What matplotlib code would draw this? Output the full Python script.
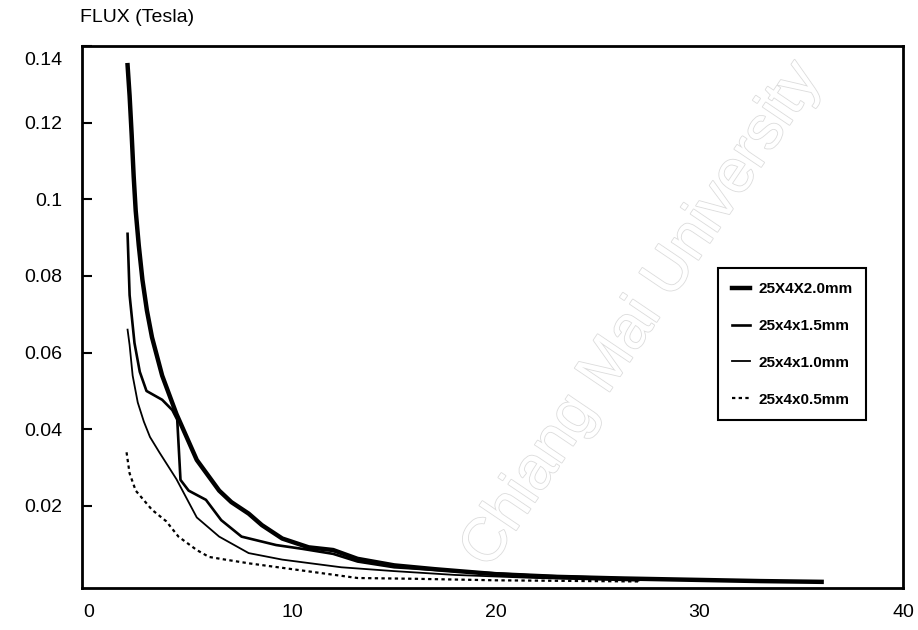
import numpy as np
import matplotlib.pyplot as plt
import matplotlib.patheffects as pe
import matplotlib.transforms as mtransforms

plt.rcParams['font.family'] = ['Liberation Sans', 'DejaVu Sans']

# distance (x) vs flux (Tesla)
x_20 = [1.9, 2.0, 2.1, 2.2, 2.3, 2.45, 2.63, 2.85, 3.1, 3.6, 4.3, 5.3, 6.4, 7.0, 7.85, 8.5, 9.5, 10.8, 12.0, 13.2, 15.0, 17.0, 20.0, 23.0, 26.0, 30.0, 33.0, 36.0]
y_20 = [0.135, 0.127, 0.117, 0.106, 0.097, 0.088, 0.079, 0.071, 0.064, 0.054, 0.044, 0.032, 0.024, 0.021, 0.018, 0.015, 0.0115, 0.0092, 0.0085, 0.0062, 0.0045, 0.0035, 0.0022, 0.0015, 0.0011, 0.0007, 0.0004, 0.0002]

x_15 = [1.9, 2.0, 2.24, 2.5, 2.83, 3.6, 4.1, 4.34, 4.5, 4.9, 5.75, 6.5, 7.5, 9.2, 10.5, 12.0, 13.2, 15.0, 18.0, 22.0, 27.0]
y_15 = [0.091, 0.075, 0.0625, 0.055, 0.050, 0.0477, 0.045, 0.0425, 0.0268, 0.024, 0.0216, 0.0163, 0.012, 0.0098, 0.0088, 0.0075, 0.0055, 0.004, 0.003, 0.0018, 0.001]

x_10 = [1.9, 2.0, 2.15, 2.4, 2.7, 3.0, 3.46, 4.3, 5.3, 6.4, 7.85, 9.5, 12.4, 15.0, 18.0, 22.0, 27.0]
y_10 = [0.066, 0.062, 0.054, 0.047, 0.042, 0.038, 0.034, 0.027, 0.017, 0.012, 0.0077, 0.006, 0.004, 0.003, 0.002, 0.0012, 0.0005]

x_05 = [1.85, 2.0, 2.3, 3.1, 3.8, 4.4, 5.3, 5.9, 6.7, 7.9, 10.0, 13.2, 16.0, 20.0, 27.0]
y_05 = [0.034, 0.0285, 0.024, 0.019, 0.016, 0.012, 0.0085, 0.0067, 0.006, 0.005, 0.0035, 0.0012, 0.001, 0.0006, 0.0003]

labels = ['25X4X2.0mm', '25x4x1.5mm', '25x4x1.0mm', '25x4x0.5mm']
xticks = [0, 10, 20, 30, 40]
yticks = [0.02, 0.04, 0.06, 0.08, 0.1, 0.12, 0.14]
ytick_labels = ['0.02', '0.04', '0.06', '0.08', '0.1', '0.12', '0.14']

fig = plt.figure(figsize=(9.18, 6.3), dpi=100)
ax = fig.add_axes([0.0893, 0.0667, 0.8944, 0.8603])

# faint scan watermark
fig.text(0.70, 0.50, 'Chiang Mai University', fontsize=44, rotation=56,
         ha='center', va='center', color='white', zorder=-1,
         path_effects=[pe.withStroke(linewidth=1.2, foreground='#dcdcdc')])

ax.plot(x_20, y_20, color='black', lw=3.2, label=labels[0])
ax.plot(x_15, y_15, color='black', lw=1.9, label=labels[1])
ax.plot(x_10, y_10, color='black', lw=1.3, label=labels[2])
ax.plot(x_05, y_05, color='black', lw=1.6, linestyle=(0, (1.5, 1.5)), label=labels[3])

ax.set_xlim(-0.34, 40)
ax.set_ylim(-0.0014, 0.140)
ax.patch.set_alpha(0)

ax.set_xticks([])
trans = mtransforms.blended_transform_factory(ax.transData, ax.transAxes)
for v in xticks:
    ax.text(v, -0.046, str(v), transform=trans, ha='center', va='center',
            fontsize=14, clip_on=False)

ax.set_yticks(yticks)
ax.set_yticklabels(ytick_labels, fontsize=14)
ax.tick_params(axis='y', direction='in', length=7, width=1.5, pad=14)
# the top label sits a little below the frame in the scan
top = ax.get_yticklabels()[-1]
top.set_transform(top.get_transform() + mtransforms.ScaledTranslation(0, -0.13, fig.dpi_scale_trans))

for s in ax.spines.values():
    s.set_linewidth(2)

fig.text(0.087, 0.972, 'FLUX (Tesla)', fontsize=14, ha='left', va='center')

leg = ax.legend(loc='upper left', bbox_to_anchor=(0.775, 0.59), borderaxespad=0,
                fancybox=False, framealpha=1, edgecolor='black',
                prop={'size': 11, 'weight': 'bold'}, handlelength=1.2,
                handletextpad=0.5, labelspacing=1.5, borderpad=0.9)
leg.get_frame().set_linewidth(1.5)

plt.savefig('out.png', dpi=100)
